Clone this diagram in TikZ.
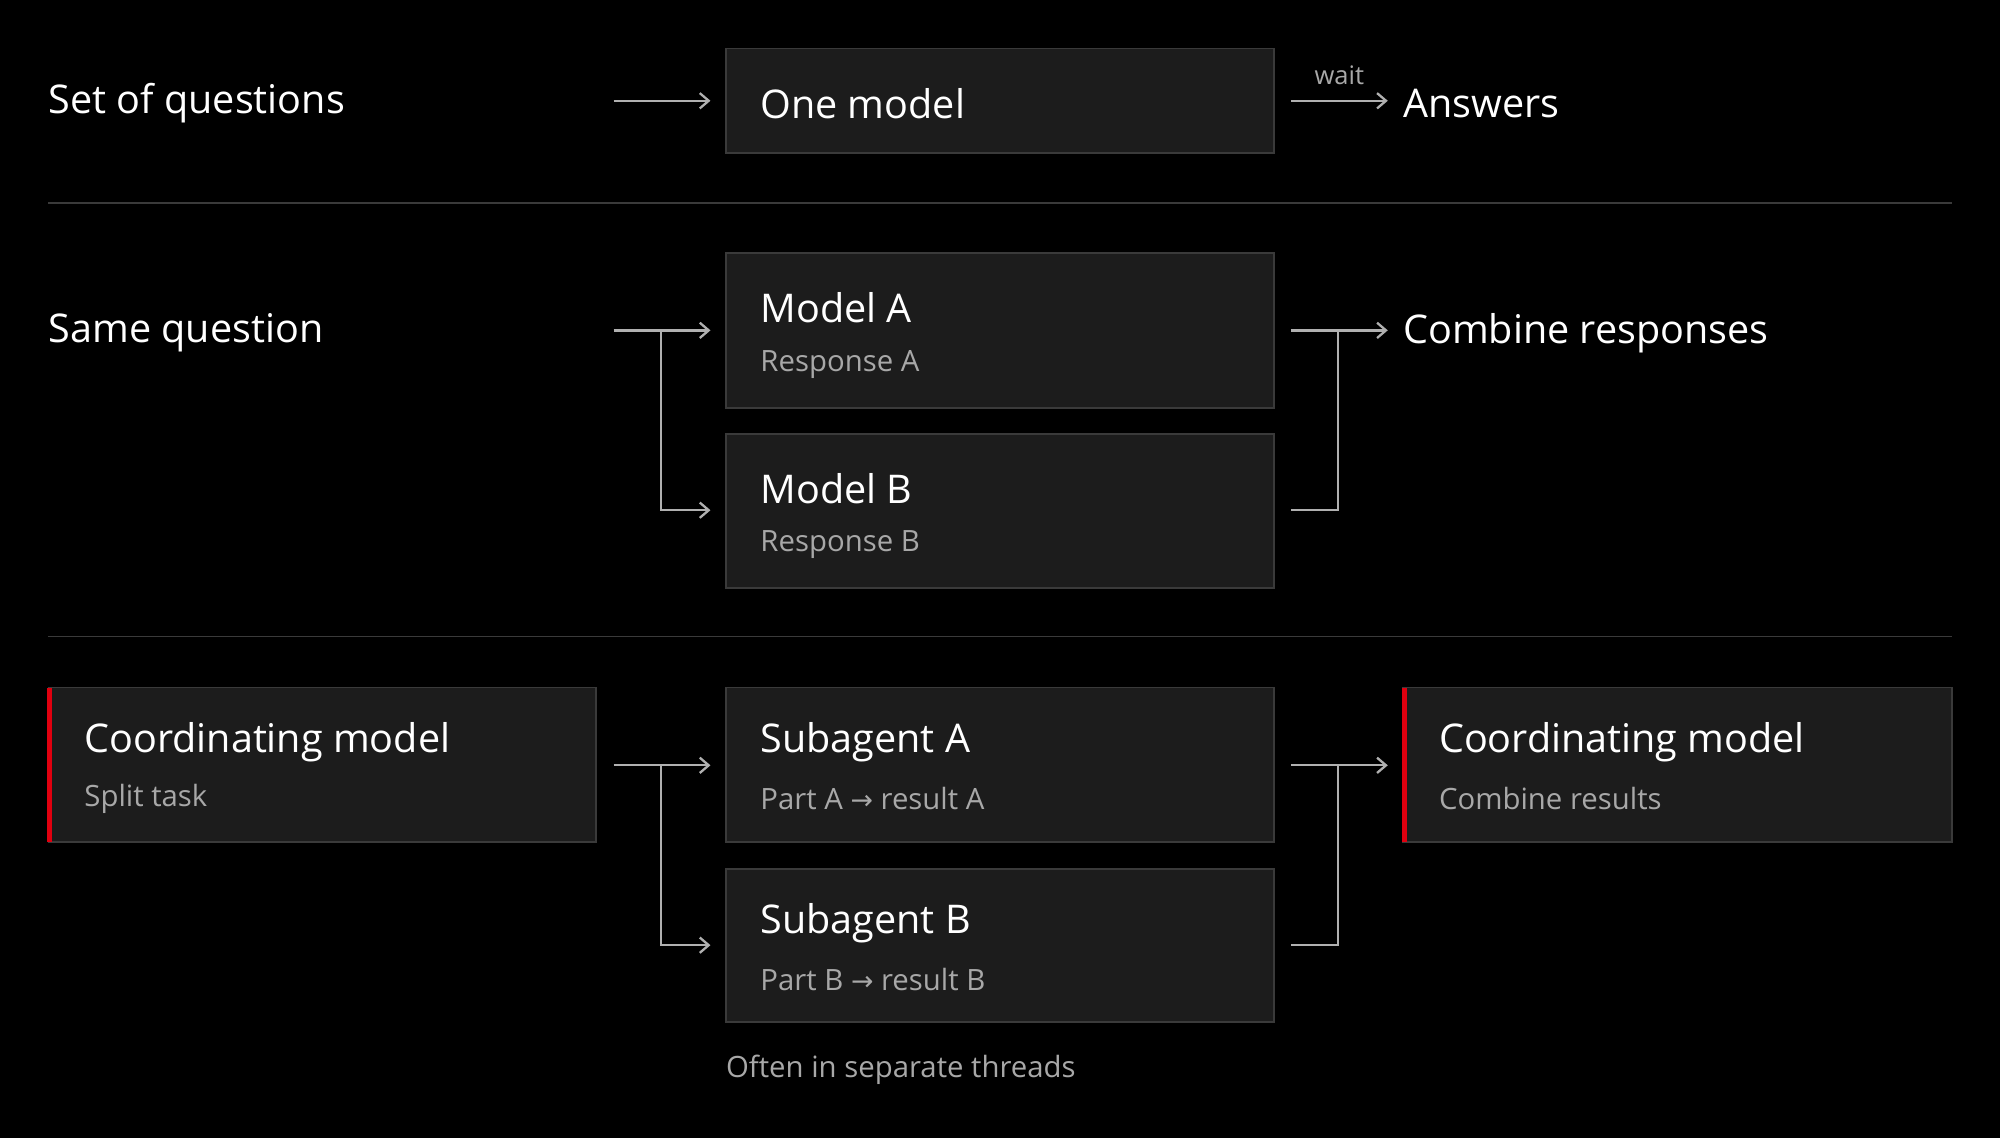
\documentclass[tikz,border=0pt]{standalone}
\usepackage{fontspec}
\setmainfont{Open Sans}
\newfontfamily\djv{DejaVu Sans}
\usetikzlibrary{arrows.meta}
\definecolor{bx}{HTML}{1C1C1C}
\definecolor{bd}{HTML}{3A3A3A}
\definecolor{ln}{HTML}{B0B0B0}
\definecolor{sub}{HTML}{A8A8A8}
\definecolor{rd}{HTML}{E0000F}
\begin{document}
\begin{tikzpicture}[x=1pt,y=-1pt,
  box/.style={draw=bd,fill=bx,line width=1.5pt},
  title/.style={anchor=west,yshift=-2pt,text=white,font=\fontsize{31}{36}\selectfont,inner sep=0},
  subt/.style={anchor=west,yshift=-2pt,text=sub,font=\fontsize{23}{27}\selectfont,inner sep=0},
  arr/.style={draw=ln,line width=1.8pt,-{Straight Barb[length=7pt,width=12pt,line width=1.8pt]}},
  con/.style={draw=ln,line width=1.8pt}]
\fill[black] (0,0) rectangle (1568,892);
\useasboundingbox (0,0) rectangle (1568,892);
% row 1
\node[title] (q1) at (38,79) {Set of questions};
\draw[box] (569,38) rectangle (999,120);
\node[title] (m1) at (596,79) {One model};
\coordinate (a1s) at (481,79); \coordinate (a1e) at (557,79);
\draw[arr] (a1s) -- (a1e);
\coordinate (b1s) at (1012,79); \coordinate (b1e) at (1088,79);
\draw[arr] (b1s) -- (b1e);
\node[subt,anchor=center,yshift=0pt,font=\fontsize{20}{24}\selectfont] (w) at (1050,57) {wait};
\node[title] (ans) at (1100,79) {Answers};
\draw[bd,line width=1.5pt] (38,159) -- (1530,159);
% row 2
\node[title] (q2) at (38,259) {Same question};
\draw[box] (569,198) rectangle (999,320);
\node[title] (ma) at (596,239) {Model A};
\node[subt] (ra) at (596,284) {Response A};
\draw[box] (569,340) rectangle (999,461);
\node[title] (mb) at (596,381) {Model B};
\node[subt] (rb) at (596,425) {Response B};
\coordinate (s2) at (481,259); \coordinate (e2a) at (557,259); \coordinate (e2b) at (557,400);
\draw[arr] (s2) -- (e2a);
\draw[arr] (518,259) |- (e2b);
\coordinate (r2a) at (1012,259); \coordinate (r2b) at (1012,400); \coordinate (r2e) at (1088,259);
\draw[arr] (r2a) -- (r2e);
\draw[con] (r2b) -| (1049,259);
\node[title] (cr) at (1100,259) {Combine responses};
\draw[bd,line width=1.5pt] (38,499) -- (1530,499);
% row 3
\draw[box] (38,539) rectangle (467,660);
\fill[rd] (37,539) rectangle (41,660);
\node[title] (c1) at (66,580) {Coordinating model};
\node[subt] (c1s) at (66,624) {Split task};
\draw[box] (569,539) rectangle (999,660);
\node[title] (sa) at (596,580) {Subagent A};
\node[subt] (sas) at (596,624) {Part A {\djv\fontsize{21}{25}\selectfont →} result A};
\draw[box] (569,681) rectangle (999,801);
\node[title] (sb) at (596,722) {Subagent B};
\node[subt] (sbs) at (596,766) {Part B {\djv\fontsize{21}{25}\selectfont →} result B};
\draw[box] (1100,539) rectangle (1530,660);
\fill[rd] (1099,539) rectangle (1103,660);
\node[title] (c2) at (1128,580) {Coordinating model};
\node[subt] (c2s) at (1128,624) {Combine results};
\coordinate (s3) at (481,600); \coordinate (e3a) at (557,600); \coordinate (e3b) at (557,741);
\draw[arr] (s3) -- (e3a);
\draw[arr] (518,600) |- (e3b);
\coordinate (r3a) at (1012,600); \coordinate (r3b) at (1012,741); \coordinate (r3e) at (1088,600);
\draw[arr] (r3a) -- (r3e);
\draw[con] (r3b) -| (1049,600);
\node[subt] (often) at (569,837) {Often in separate threads};
\end{tikzpicture}
\end{document}
